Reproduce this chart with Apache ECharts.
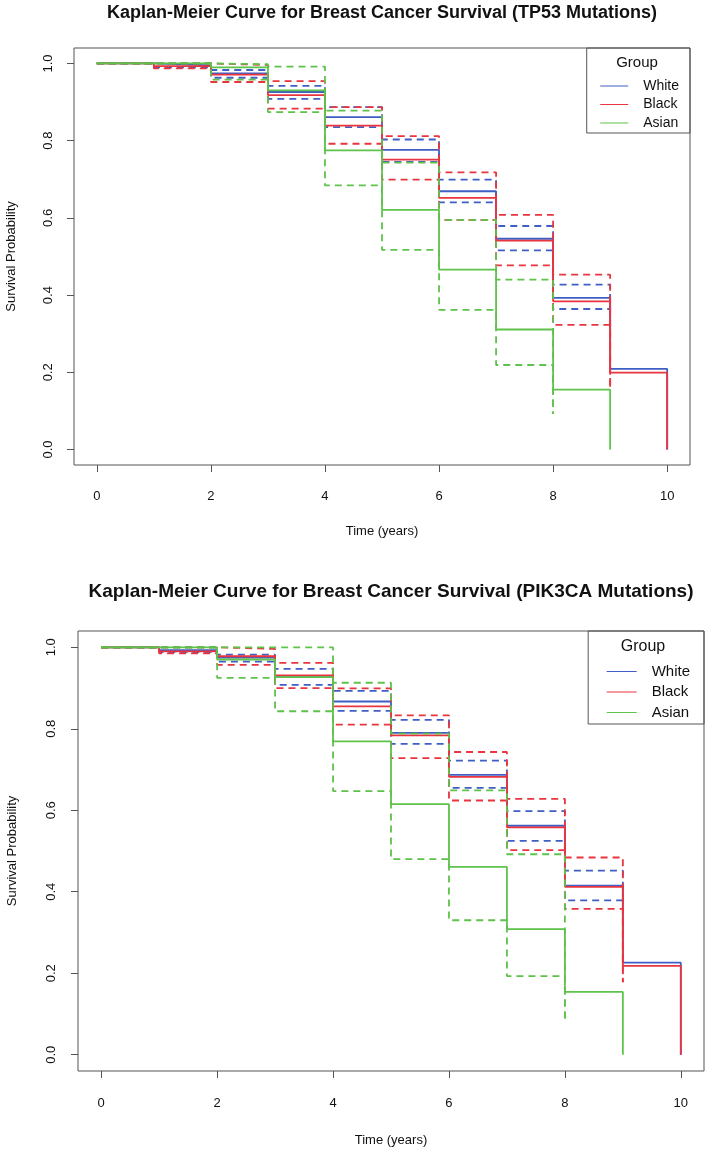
<!DOCTYPE html>
<html>
<head>
<meta charset="utf-8">
<script src="https://cdn.jsdelivr.net/npm/echarts@6/dist/echarts.min.js"></script>
<style>
  html, body { margin: 0; padding: 0; background: #fff; }
  #dashboard { width: 709px; height: 1151px; }
</style>
</head>
<body>
<div id="dashboard"></div>
<script>
// time points (years) of the Kaplan-Meier steps
var timesWB = [0, 1, 2, 3, 4, 5, 6, 7, 8, 9, 10];
var ciTimesWB = [0, 1, 2, 3, 4, 5, 6, 7, 8, 9];
var timesAsian = [0, 2, 3, 4, 5, 6, 7, 8, 9];
var ciTimesAsian = [0, 2, 3, 4, 5, 6, 7, 8];

// TP53 mutations
var tp53White = [1, 0.995, 0.974, 0.926, 0.861, 0.776, 0.669, 0.546, 0.393, 0.209, 0];
var tp53WhiteUpper = [1, 1.0, 0.983, 0.942, 0.887, 0.803, 0.699, 0.579, 0.427, 0.364];
var tp53WhiteLower = [1, 0.990, 0.963, 0.908, 0.835, 0.745, 0.640, 0.516, 0.364, 0.364];
var tp53Black = [1, 0.993, 0.971, 0.918, 0.839, 0.751, 0.652, 0.541, 0.384, 0.199, 0];
var tp53BlackUpper = [1, 1.0, 0.996, 0.954, 0.887, 0.812, 0.718, 0.608, 0.453, 0.161];
var tp53BlackLower = [1, 0.987, 0.952, 0.883, 0.792, 0.699, 0.595, 0.477, 0.323, 0.161];
var tp53Asian = [1, 0.990, 0.930, 0.775, 0.621, 0.466, 0.311, 0.155, 0];
var tp53AsianUpper = [1, 0.998, 0.992, 0.878, 0.743, 0.595, 0.440, 0.092];
var tp53AsianLower = [1, 0.958, 0.874, 0.684, 0.517, 0.362, 0.219, 0.092];

// PIK3CA mutations
var pikWhite = [1, 0.993, 0.975, 0.927, 0.867, 0.790, 0.687, 0.562, 0.415, 0.226, 0];
var pikWhiteUpper = [1, 1.0, 0.982, 0.947, 0.893, 0.822, 0.722, 0.598, 0.452, 0.390];
var pikWhiteLower = [1, 0.988, 0.965, 0.908, 0.844, 0.763, 0.655, 0.525, 0.379, 0.390];
var pikBlack = [1, 0.990, 0.978, 0.931, 0.855, 0.784, 0.682, 0.558, 0.412, 0.218, 0];
var pikBlackUpper = [1, 1.0, 0.996, 0.962, 0.899, 0.833, 0.743, 0.628, 0.484, 0.178];
var pikBlackLower = [1, 0.985, 0.957, 0.900, 0.810, 0.728, 0.624, 0.502, 0.358, 0.178];
var pikAsian = [1, 0.970, 0.927, 0.769, 0.615, 0.461, 0.308, 0.154, 0];
var pikAsianUpper = [1, 1.0, 1.0, 0.913, 0.788, 0.649, 0.492, 0.077];
var pikAsianLower = [1, 0.925, 0.843, 0.647, 0.480, 0.330, 0.193, 0.077];

var groups = ['White', 'Black', 'Asian'];
var xTicks = [0, 2, 4, 6, 8, 10];
var yTicks = [0, 0.2, 0.4, 0.6, 0.8, 1.0];

var titleTop = 'Kaplan-Meier Curve for Breast Cancer Survival (TP53 Mutations)';
var titleBottom = 'Kaplan-Meier Curve for Breast Cancer Survival (PIK3CA Mutations)';

document.addEventListener("DOMContentLoaded", function(event) {
  var FONT = '"Liberation Sans", Arial, sans-serif';
  var colors = { White: '#3f5fc4', Black: '#e8353f', Asian: '#5ec24b' };

  function pairs(times, values) {
    return values.map(function (v, i) { return [times[i], v]; });
  }

  function stepLine(name, gridIdx, color, data, dashed) {
    return {
      name: name,
      type: 'line',
      step: 'end',
      xAxisIndex: gridIdx,
      yAxisIndex: gridIdx,
      symbol: 'none',
      silent: true,
      data: data,
      itemStyle: { color: color },
      lineStyle: {
        color: color,
        width: 1.8,
        type: dashed ? [7, 5] : 'solid'
      }
    };
  }

  function buildGroup(gridIdx, name, times, ciTimes, surv, upper, lower) {
    var c = colors[name];
    return [
      stepLine(name, gridIdx, c, pairs(times, surv), false),
      stepLine(name + ' upper', gridIdx, c, pairs(ciTimes, upper), true),
      stepLine(name + ' lower', gridIdx, c, pairs(ciTimes, lower), true)
    ];
  }

  function xAxisFor(gridIdx, labelMargin, nameGap) {
    return {
      type: 'value',
      gridIndex: gridIdx,
      min: -0.4,
      max: 10.4,
      name: 'Time (years)',
      nameLocation: 'middle',
      nameGap: nameGap,
      nameTextStyle: { fontFamily: FONT, fontSize: 13, color: '#111' },
      axisLine: { show: false, onZero: false },
      splitLine: { show: false },
      axisTick: { show: true, length: 7, customValues: xTicks, lineStyle: { color: '#555' } },
      axisLabel: { customValues: xTicks, margin: labelMargin, fontFamily: FONT, fontSize: 13, color: '#111' }
    };
  }

  function yAxisFor(gridIdx, labelMargin, nameGap) {
    return {
      type: 'value',
      gridIndex: gridIdx,
      min: -0.04,
      max: 1.04,
      name: 'Survival Probability',
      nameLocation: 'middle',
      nameGap: nameGap,
      nameTextStyle: { fontFamily: FONT, fontSize: 13, color: '#111' },
      axisLine: { show: false, onZero: false },
      splitLine: { show: false },
      axisTick: { show: true, length: 7, customValues: yTicks, lineStyle: { color: '#555' } },
      axisLabel: {
        customValues: yTicks,
        rotate: 90,
        margin: labelMargin,
        fontFamily: FONT, fontSize: 13, color: '#111',
        formatter: function (v) { return v.toFixed(1); }
      }
    };
  }

  function legendFor(top, right, fs, iw, gap, pad) {
    return {
      orient: 'vertical',
      top: top,
      right: right,
      data: groups,
      selectedMode: false,
      borderColor: '#555',
      borderWidth: 1,
      borderRadius: 0,
      padding: pad,
      itemWidth: iw,
      itemHeight: 14,
      itemGap: gap,
      itemStyle: { opacity: 0 },
      lineStyle: { width: 1 },
      textStyle: { fontFamily: FONT, fontSize: fs, color: '#111', padding: [0, 0, 0, 10] }
    };
  }

  var myChart = echarts.init(document.getElementById('dashboard'), null, { renderer: 'canvas' });

  var series = []
    .concat(buildGroup(0, 'White', timesWB, ciTimesWB, tp53White, tp53WhiteUpper, tp53WhiteLower))
    .concat(buildGroup(0, 'Black', timesWB, ciTimesWB, tp53Black, tp53BlackUpper, tp53BlackLower))
    .concat(buildGroup(0, 'Asian', timesAsian, ciTimesAsian, tp53Asian, tp53AsianUpper, tp53AsianLower))
    .concat(buildGroup(1, 'White', timesWB, ciTimesWB, pikWhite, pikWhiteUpper, pikWhiteLower))
    .concat(buildGroup(1, 'Black', timesWB, ciTimesWB, pikBlack, pikBlackUpper, pikBlackLower))
    .concat(buildGroup(1, 'Asian', timesAsian, ciTimesAsian, pikAsian, pikAsianUpper, pikAsianLower));

  var option = {
    animation: false,
    backgroundColor: '#fff',
    title: [
      { text: titleTop, left: 382, top: 4, textAlign: 'center', padding: 0,
        textStyle: { fontFamily: FONT, fontSize: 18, fontWeight: 'bold', color: '#111' } },
      { text: titleBottom, left: 391, top: 582, textAlign: 'center', padding: 0,
        textStyle: { fontFamily: FONT, fontSize: 19, fontWeight: 'bold', color: '#111' } },
      { text: 'Group', left: 637, top: 55, textAlign: 'center', padding: 0,
        textStyle: { fontFamily: FONT, fontSize: 15, fontWeight: 'normal', color: '#111' } },
      { text: 'Group', left: 643, top: 639, textAlign: 'center', padding: 0,
        textStyle: { fontFamily: FONT, fontSize: 16, fontWeight: 'normal', color: '#111' } }
    ],
    legend: [
      legendFor(48, 19, 14, 28, 4.5, [31, 11, 3, 13]),
      legendFor(631, 5, 15, 30, 5.5, [33, 14, 4, 18])
    ],
    grid: [
      { left: 74, right: 19, top: 48, height: 417, outerBoundsMode: 'none', containLabel: false,
        show: true, borderColor: '#555', borderWidth: 1, backgroundColor: 'transparent' },
      { left: 78, right: 5, top: 631, height: 440, outerBoundsMode: 'none', containLabel: false,
        show: true, borderColor: '#555', borderWidth: 1, backgroundColor: 'transparent' }
    ],
    xAxis: [xAxisFor(0, 25, 60), xAxisFor(1, 26, 63)],
    yAxis: [yAxisFor(0, 19, 56), yAxisFor(1, 20, 59)],
    series: series
  };

  myChart.setOption(option);
});
</script>
</body>
</html>
